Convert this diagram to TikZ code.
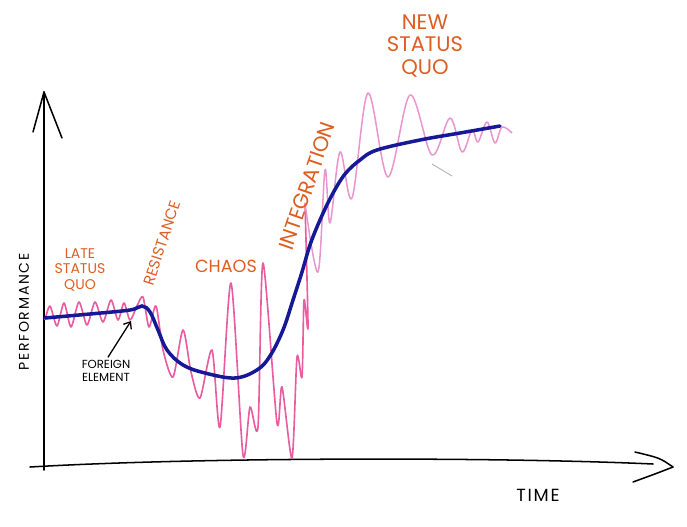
\documentclass[tikz,border=0pt]{standalone}
\usepackage{fontspec}
\setmainfont{Poppins}
\usetikzlibrary{arrows.meta}
\definecolor{inkorange}{RGB}{222,94,34}
\definecolor{inkblue}{RGB}{22,24,150}
\definecolor{inkpink}{RGB}{234,92,160}
\definecolor{inklight}{RGB}{232,150,205}
\tikzset{
  phase/.style={text=inkorange, align=center, inner sep=0pt},
  axistext/.style={text=black, align=center, inner sep=0pt},
  axisline/.style={black, line width=1.3pt, line cap=round},
}
\newcommand{\fsz}[1]{\fontsize{#1}{1.08\dimexpr #1pt\relax}\selectfont}
\begin{document}
\begin{tikzpicture}[x=0.03cm, y=-0.03cm]
  \useasboundingbox (0,0) rectangle (687,527);
  %%%%%%%%%%%%%%%%%%%%%%%%%%%%%%%%%%%%%%%%%%%%%%
  %%% Axes, hand drawn
  %%%%%%%%%%%%%%%%%%%%%%%%%%%%%%%%%%%%%%%%%%%%%%
  \coordinate (origin) at (44,470);
  \coordinate (ytop) at (44,92);
  \coordinate (xleft) at (30,467);
  \coordinate (xtip) at (673,467);
  \draw[axisline] (origin) -- (ytop);
  \draw[axisline] (ytop) -- +(-11,40);
  \draw[axisline] (ytop) -- +(18,46);
  \draw[axisline] (xleft) .. controls (200,457) and (500,457) .. (653,464);
  \draw[axisline] (xtip) .. controls (660,458) .. (635,452);
  \draw[axisline] (xtip) .. controls (655,474) .. (633,482);
  \node[axistext, rotate=90, font=\fsz{12}\addfontfeature{LetterSpace=12}] (perf) at (24,312) {PERFORMANCE};
  \node[axistext, font=\fsz{15}\addfontfeature{LetterSpace=10}] (time) at (538,495) {TIME};

  % Performance, measured (pink)
  \draw[inkpink, line width=1.4pt, line join=round] plot[smooth, tension=0.45] coordinates {
    (45,320) (50,306) (57,326) (64,303) (71,327) (79,302) (87,325) (95,302)
    (103,322) (111,300) (118,320) (124,303) (130,320) (137,306) (143,297)
    (149,327) (156,306) (163,350) (173,377) (183,330) (191,372) (200,398)
    (212,350) (220,427) (231,283) (243,455) (250,407) (258,427) (263,263)
    (277,423) (282,387) (292,458) (297,357) (302,377) (304,300) (308,327)
    (305,203)};
  \draw[inklight, line width=1.3pt, line join=round] plot[smooth, tension=0.55] coordinates {
    (305,203) (318,272) (325,170) (330,223) (340,152) (352,198) (368,93)
    (388,177) (410,95) (432,155) (450,118) (462,152) (472,130) (478,142)
    (487,122) (495,143) (502,127) (512,133)};
  % stray pen mark
  \draw[gray!60, line width=0.8pt] (432,164) -- (452,176);

  % Performance, trend (blue)
  \draw[inkblue, line width=3pt, line cap=round] plot[smooth, tension=0.6] coordinates {
    (45,318) (90,314) (130,310) (142,306) (150,312) (158,330) (167,350)
    (183,365) (205,373) (235,378) (257,370) (270,356) (283,330) (293,300)
    (302,272) (310,245) (320,220) (332,195) (345,174) (360,160) (377,150)
    (420,140) (460,133) (500,126)};

  % Phases of the change
  \node[phase, font=\fsz{12}] (late) at (80,270) {LATE\\STATUS\\QUO};
  \node[phase, rotate=72, font=\fsz{13}] (resist) at (162,243) {RESISTANCE};
  \node[phase, font=\fsz{15}] (chaos) at (226,266) {CHAOS};
  \node[phase, rotate=71, font=\fsz{18}] (integ) at (307,186) {INTEGRATION};
  \node[phase, font=\fsz{18}] (newquo) at (425,46) {NEW\\STATUS\\QUO};

  % The foreign element hits the old status quo
  \node[axistext, font=\fsz{10}] (foreign) at (106,371) {FOREIGN\\ELEMENT};
  \coordinate (hit) at (131,321);
  \draw[->, >={Straight Barb[length=5pt,width=8pt]}, line width=1.1pt, shorten <=3pt] (foreign.north) -- (hit);
\end{tikzpicture}
\end{document}
